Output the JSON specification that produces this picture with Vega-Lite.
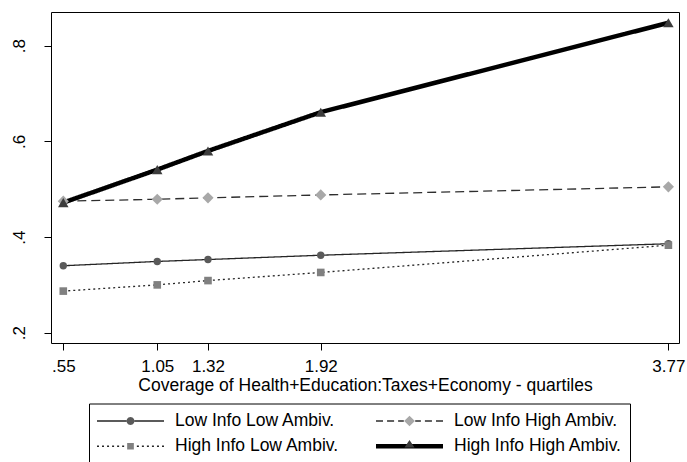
{
  "$schema": "https://vega.github.io/schema/vega-lite/v6.json",
  "width": 628,
  "height": 331,
  "autosize": {"type": "none"},
  "padding": {"left": 51, "top": 12, "right": 8, "bottom": 119},
  "background": "white",
  "config": {
    "font": "Liberation Sans",
    "view": {"stroke": "#000", "strokeWidth": 1},
    "axis": {
      "grid": false,
      "domain": false,
      "tickColor": "#000",
      "tickSize": 7,
      "tickWidth": 1,
      "labelColor": "#000",
      "labelFont": "Liberation Sans",
      "labelFontSize": 17,
      "titleColor": "#000",
      "titleFont": "Liberation Sans",
      "titleFontSize": 17.5,
      "titleFontWeight": "normal",
      "labelOverlap": false,
      "labelFlush": false
    },
    "legend": {
      "columns": 2,
      "padding": 8,
      "rowPadding": 6.5,
      "columnPadding": 36,
      "clipHeight": 18.5,
      "symbolSize": 4489,
      "symbolOpacity": 1,
      "symbolStrokeWidth": 0,
      "labelOffset": 11,
      "labelLimit": 400,
      "labelFont": "Liberation Sans",
      "labelFontSize": 17.5,
      "labelColor": "#000"
    }
  },
  "data": {
    "values": [
      {"group": "Low Info Low Ambiv.", "coverage": 0.55, "prob": 0.340},
      {"group": "Low Info Low Ambiv.", "coverage": 1.05, "prob": 0.349},
      {"group": "Low Info Low Ambiv.", "coverage": 1.32, "prob": 0.353},
      {"group": "Low Info Low Ambiv.", "coverage": 1.92, "prob": 0.362},
      {"group": "Low Info Low Ambiv.", "coverage": 3.77, "prob": 0.386},
      {"group": "Low Info High Ambiv.", "coverage": 0.55, "prob": 0.475},
      {"group": "Low Info High Ambiv.", "coverage": 1.05, "prob": 0.479},
      {"group": "Low Info High Ambiv.", "coverage": 1.32, "prob": 0.482},
      {"group": "Low Info High Ambiv.", "coverage": 1.92, "prob": 0.488},
      {"group": "Low Info High Ambiv.", "coverage": 3.77, "prob": 0.505},
      {"group": "High Info Low Ambiv.", "coverage": 0.55, "prob": 0.287},
      {"group": "High Info Low Ambiv.", "coverage": 1.05, "prob": 0.300},
      {"group": "High Info Low Ambiv.", "coverage": 1.32, "prob": 0.309},
      {"group": "High Info Low Ambiv.", "coverage": 1.92, "prob": 0.326},
      {"group": "High Info Low Ambiv.", "coverage": 3.77, "prob": 0.383},
      {"group": "High Info High Ambiv.", "coverage": 0.55, "prob": 0.472},
      {"group": "High Info High Ambiv.", "coverage": 1.05, "prob": 0.541},
      {"group": "High Info High Ambiv.", "coverage": 1.32, "prob": 0.580},
      {"group": "High Info High Ambiv.", "coverage": 1.92, "prob": 0.661},
      {"group": "High Info High Ambiv.", "coverage": 3.77, "prob": 0.848}
    ]
  },
  "encoding": {
    "x": {
      "field": "coverage",
      "type": "quantitative",
      "scale": {"domain": [0.4846, 3.8264], "nice": false, "zero": false},
      "axis": {
        "values": [0.55, 1.05, 1.32, 1.92, 3.77],
        "labelExpr": "datum.value < 1 ? replace(format(datum.value, '.2f'), '0.', '.') : format(datum.value, '.2f')",
        "labelBaseline": "alphabetic",
        "labelPadding": 21.7,
        "title": "Coverage of Health+Education:Taxes+Economy - quartiles",
        "titleBaseline": "alphabetic",
        "titleY": 47
      }
    },
    "y": {
      "field": "prob",
      "type": "quantitative",
      "scale": {"domain": [0.1785, 0.8705], "nice": false, "zero": false},
      "axis": {
        "values": [0.2, 0.4, 0.6, 0.8],
        "labelExpr": "replace(format(datum.value, '.1f'), '0.', '.')",
        "labelAngle": 270,
        "labelAlign": "center",
        "labelBaseline": "alphabetic",
        "labelPadding": 19.7,
        "title": null
      }
    }
  },
  "resolve": {
    "scale": {"shape": "independent", "fill": "independent", "strokeDash": "independent", "strokeWidth": "independent"}
  },
  "layer": [
    {
      "mark": {"type": "line", "strokeCap": "butt"},
      "encoding": {
        "color": {
          "field": "group",
          "type": "nominal",
          "scale": {
            "domain": ["Low Info Low Ambiv.", "High Info Low Ambiv.", "Low Info High Ambiv.", "High Info High Ambiv."],
            "range": ["#262626", "#262626", "#2e2e2e", "#000000"]
          },
          "legend": null
        },
        "strokeDash": {
          "field": "group",
          "type": "nominal",
          "scale": {
            "domain": ["Low Info Low Ambiv.", "High Info Low Ambiv.", "Low Info High Ambiv.", "High Info High Ambiv."],
            "range": [[1, 0], [2, 3], [9, 5], [1, 0]]
          },
          "legend": null
        },
        "strokeWidth": {
          "field": "group",
          "type": "nominal",
          "scale": {
            "type": "ordinal",
            "domain": ["Low Info Low Ambiv.", "High Info Low Ambiv.", "Low Info High Ambiv.", "High Info High Ambiv."],
            "range": [1.3, 1.3, 1.3, 4.5]
          },
          "legend": null
        }
      }
    },
    {
      "mark": {"type": "point", "filled": true, "opacity": 1, "strokeWidth": 0},
      "encoding": {
        "shape": {
          "field": "group",
          "type": "nominal",
          "scale": {
            "domain": ["Low Info Low Ambiv.", "High Info Low Ambiv.", "Low Info High Ambiv.", "High Info High Ambiv."],
            "range": ["circle", "square", "diamond", "triangle-up"]
          },
          "legend": null
        },
        "fill": {
          "field": "group",
          "type": "nominal",
          "scale": {
            "domain": ["Low Info Low Ambiv.", "High Info Low Ambiv.", "Low Info High Ambiv.", "High Info High Ambiv."],
            "range": ["#5a5a5a", "#808080", "#a8a8a8", "#3c3c3c"]
          },
          "legend": null
        },
        "size": {
          "field": "group",
          "type": "nominal",
          "scale": {
            "type": "ordinal",
            "domain": ["Low Info Low Ambiv.", "High Info Low Ambiv.", "Low Info High Ambiv.", "High Info High Ambiv."],
            "range": [55, 58, 125, 110]
          },
          "legend": null
        }
      }
    },
    {
      "description": "legend key lines: solid, dotted, dashed and thick strokes drawn as filled bars",
      "mark": {"type": "point", "filled": true, "opacity": 0},
      "encoding": {
        "shape": {
          "field": "group",
          "type": "nominal",
          "scale": {
            "domain": ["Low Info Low Ambiv.", "High Info Low Ambiv.", "Low Info High Ambiv.", "High Info High Ambiv."],
            "range": [
              "M-1,-0.02L-0.11,-0.02L-0.11,0.02L-1,0.02ZM0.11,-0.02L1,-0.02L1,0.02L0.11,0.02Z",
              "M-1,-0.02L-0.94,-0.02L-0.94,0.02L-1,0.02ZM-0.85,-0.02L-0.79,-0.02L-0.79,0.02L-0.85,0.02ZM-0.7,-0.02L-0.64,-0.02L-0.64,0.02L-0.7,0.02ZM-0.55,-0.02L-0.49,-0.02L-0.49,0.02L-0.55,0.02ZM-0.4,-0.02L-0.34,-0.02L-0.34,0.02L-0.4,0.02ZM-0.25,-0.02L-0.19,-0.02L-0.19,0.02L-0.25,0.02ZM0.19,-0.02L0.25,-0.02L0.25,0.02L0.19,0.02ZM0.34,-0.02L0.4,-0.02L0.4,0.02L0.34,0.02ZM0.49,-0.02L0.55,-0.02L0.55,0.02L0.49,0.02ZM0.64,-0.02L0.7,-0.02L0.7,0.02L0.64,0.02ZM0.79,-0.02L0.85,-0.02L0.85,0.02L0.79,0.02ZM0.94,-0.02L1,-0.02L1,0.02L0.94,0.02Z",
              "M-1,-0.02L-0.79,-0.02L-0.79,0.02L-1,0.02ZM-0.67,-0.02L-0.46,-0.02L-0.46,0.02L-0.67,0.02ZM-0.34,-0.02L-0.17,-0.02L-0.17,0.02L-0.34,0.02ZM0.17,-0.02L0.34,-0.02L0.34,0.02L0.17,0.02ZM0.46,-0.02L0.67,-0.02L0.67,0.02L0.46,0.02ZM0.79,-0.02L1,-0.02L1,0.02L0.79,0.02Z",
              "M-1,-0.067L1,-0.067L1,0.067L-1,0.067Z"
            ]
          },
          "legend": {"title": null, "orient": "none", "legendX": 38, "legendY": 391.5, "strokeColor": "#000", "fillColor": "transparent"}
        },
        "fill": {
          "field": "group",
          "type": "nominal",
          "scale": {
            "domain": ["Low Info Low Ambiv.", "High Info Low Ambiv.", "Low Info High Ambiv.", "High Info High Ambiv."],
            "range": ["#262626", "#262626", "#2e2e2e", "#000000"]
          },
          "legend": {"title": null, "orient": "none", "legendX": 38, "legendY": 391.5, "strokeColor": "#000", "fillColor": "transparent"}
        }
      }
    },
    {
      "description": "legend key markers drawn over the key lines",
      "mark": {"type": "point", "filled": true, "opacity": 0},
      "encoding": {
        "shape": {
          "field": "group",
          "type": "nominal",
          "scale": {
            "domain": ["Low Info Low Ambiv.", "High Info Low Ambiv.", "Low Info High Ambiv.", "High Info High Ambiv."],
            "range": [
              "M-1,0L1,0M0.12,0L0.104,0.06L0.06,0.104L0,0.12L-0.06,0.104L-0.104,0.06L-0.12,0L-0.104,-0.06L-0.06,-0.104L0,-0.12L0.06,-0.104L0.104,-0.06Z",
              "M-1,0L1,0M-0.1,-0.1L0.1,-0.1L0.1,0.1L-0.1,0.1Z",
              "M-1,0L1,0M0,-0.16L0.16,0L0,0.16L-0.16,0Z",
              "M-1,0L1,0M0,-0.19L0.15,0.04L-0.15,0.04Z"
            ]
          },
          "legend": {"title": null, "orient": "none", "legendX": 38, "legendY": 391.5, "strokeColor": "transparent", "fillColor": "transparent", "labelOpacity": 0}
        },
        "fill": {
          "field": "group",
          "type": "nominal",
          "scale": {
            "domain": ["Low Info Low Ambiv.", "High Info Low Ambiv.", "Low Info High Ambiv.", "High Info High Ambiv."],
            "range": ["#5a5a5a", "#808080", "#a8a8a8", "#3c3c3c"]
          },
          "legend": {"title": null, "orient": "none", "legendX": 38, "legendY": 391.5, "strokeColor": "transparent", "fillColor": "transparent", "labelOpacity": 0}
        }
      }
    }
  ]
}
